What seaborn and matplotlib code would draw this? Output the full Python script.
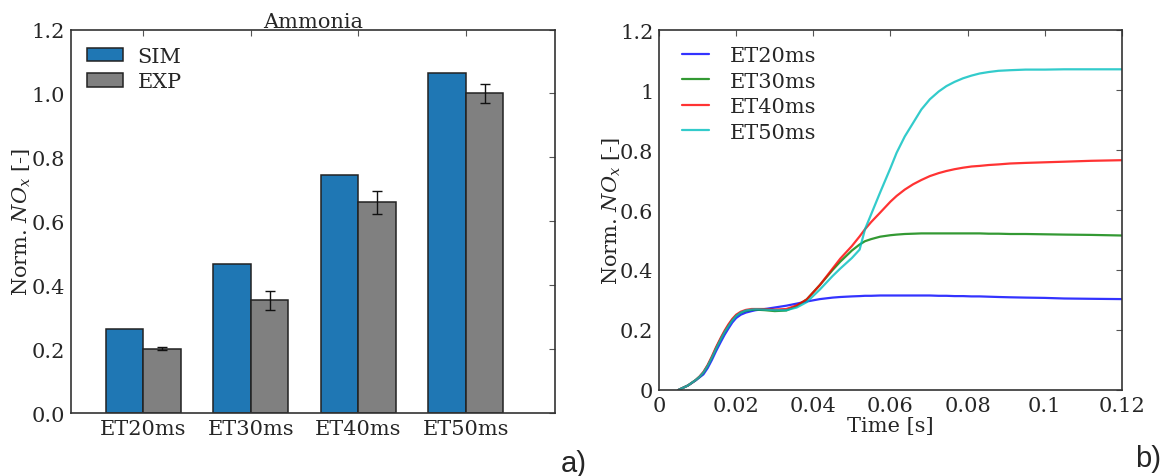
import numpy as np
import pandas as pd
import matplotlib
matplotlib.use("Agg")
import matplotlib.pyplot as plt
from matplotlib.ticker import StrMethodFormatter
import seaborn as sns

# ---------------- data ----------------
categories = ["ET20ms", "ET30ms", "ET40ms", "ET50ms"]
sim_values = [0.262, 0.465, 0.745, 1.065]
exp_values = [0.201, 0.353, 0.660, 1.001]
exp_errors = [0.005, 0.030, 0.036, 0.030]

time_s = [0.005, 0.0075, 0.0095, 0.0105, 0.0115, 0.0126, 0.0137, 0.0148, 0.016,
          0.017, 0.018, 0.019, 0.020, 0.0212, 0.0225, 0.024, 0.025, 0.0275,
          0.030, 0.033, 0.0357, 0.0383, 0.0417, 0.045, 0.047, 0.050, 0.052,
          0.0534, 0.055, 0.0573, 0.060, 0.0616, 0.0637, 0.0659, 0.068, 0.0702,
          0.0725, 0.0745, 0.0766, 0.0788, 0.081, 0.0831, 0.0855, 0.088, 0.091,
          0.095, 0.1, 0.105, 0.112, 0.12]
nox_et20 = [0, .015, .032, .042, .052, .073, .100, .13, .16, .184, .205, .225,
            .240, .251, .258, .263, .266, .27, .275, .281, .288, .295, .303,
            .308, .310, .312, .313, .314, .314, .315, .315, .315, .315, .315,
            .315, .315, .314, .314, .313, .313, .312, .312, .311, .310, .309,
            .308, .307, .305, .304, .303]
nox_et30 = [0, .015, .033, .044, .058, .081, .108, .14, .17, .194, .215, .234,
            .248, .258, .264, .267, .268, .266, .263, .265, .28, .302, .35,
            .40, .428, .465, .485, .496, .503, .511, .516, .518, .520, .521,
            .522, .522, .522, .522, .522, .522, .522, .522, .521, .521, .520,
            .520, .519, .518, .517, .515]
nox_et40 = [0, .015, .033, .045, .06, .083, .112, .143, .174, .198, .219, .237,
            .251, .261, .267, .27, .27, .27, .268, .27, .282, .302, .35, .405,
            .438, .48, .512, .536, .56, .591, .628, .647, .668, .686, .70,
            .713, .723, .73, .736, .741, .745, .747, .75, .752, .755, .757,
            .759, .761, .764, .766]
nox_et50 = [0, .015, .033, .044, .058, .08, .108, .138, .169, .193, .213, .232,
            .247, .258, .265, .268, .269, .268, .266, .266, .275, .293, .335,
            .38, .405, .44, .468, .536, .586, .658, .74, .791, .845, .891,
            .935, .969, .995, 1.013, 1.027, 1.039, 1.048, 1.055, 1.06, 1.064,
            1.066, 1.068, 1.068, 1.069, 1.069, 1.069]

# ---------------- style ----------------
sns.set_theme(style="white")
plt.rcParams["font.family"] = ["DejaVu Serif"]
plt.rcParams["mathtext.fontset"] = "dejavuserif"
plt.rcParams["axes.edgecolor"] = "#333333"
plt.rcParams["axes.linewidth"] = 1.2

fig = plt.figure(figsize=(11.67, 4.77), dpi=100)
ax1 = fig.add_axes([0.0606, 0.132, 0.415, 0.804])
ax2 = fig.add_axes([0.5647, 0.1803, 0.3967, 0.7547])

FS = 15

# ---------------- left: bars ----------------
bar_df = pd.DataFrame({
    "cat": categories * 2,
    "val": sim_values + exp_values,
    "src": ["SIM"] * 4 + ["EXP"] * 4,
})
sns.barplot(data=bar_df, x="cat", y="val", hue="src",
            palette={"SIM": "#1f77b4", "EXP": "#808080"}, saturation=1,
            width=0.7, edgecolor="#222222", linewidth=1.1,
            errorbar=None, ax=ax1)
xpos = np.arange(len(categories)) + 0.175
ax1.errorbar(xpos, exp_values, yerr=exp_errors, fmt="none", ecolor="#111111",
             elinewidth=1.0, capsize=3.5, capthick=1.0)
ax1.set_xlim(-0.674, 3.83)
ax1.set_ylim(0, 1.2)
ax1.set_yticks(np.arange(0, 1.21, 0.2))
ax1.yaxis.set_major_formatter(StrMethodFormatter("{x:.1f}"))
ax1.set_xlabel("")
ax1.set_ylabel("Norm. $NO_x$ [-]", fontsize=FS, labelpad=-1)
ax1.set_title("Ammonia", fontsize=FS, pad=2)
ax1.tick_params(axis="both", direction="in", top=True, right=True,
                length=4, width=0.8, color="#555555", labelsize=FS, pad=4)
h, l = ax1.get_legend_handles_labels()
ax1.legend(h, l, loc="upper left", bbox_to_anchor=(0.033, 0.954),
           frameon=False, fontsize=FS, handlelength=1.75, handleheight=0.6,
           handletextpad=0.7, labelspacing=0.3, borderpad=0, borderaxespad=0)

# ---------------- right: lines ----------------
series = {"ET20ms": nox_et20, "ET30ms": nox_et30,
          "ET40ms": nox_et40, "ET50ms": nox_et50}
line_df = pd.concat([pd.DataFrame({"t": time_s, "nox": v, "case": k})
                     for k, v in series.items()], ignore_index=True)
sns.lineplot(data=line_df, x="t", y="nox", hue="case",
             palette={"ET20ms": "#0000ff", "ET30ms": "#008000",
                      "ET40ms": "#ff0000", "ET50ms": "#00bfbf"},
             linewidth=1.6, alpha=0.8, ax=ax2)
ax2.set_xlim(0, 0.12)
ax2.set_ylim(0, 1.2)
ax2.set_xticks(np.arange(0, 0.121, 0.02))
ax2.set_yticks(np.arange(0, 1.21, 0.2))
ax2.xaxis.set_major_formatter(StrMethodFormatter("{x:g}"))
ax2.yaxis.set_major_formatter(StrMethodFormatter("{x:g}"))
ax2.set_xlabel("Time [s]", fontsize=FS, labelpad=1)
ax2.set_ylabel("Norm. $NO_x$ [-]", fontsize=FS, labelpad=-2)
ax2.tick_params(axis="both", direction="in", top=True, right=True,
                length=4, width=0.8, color="#555555", labelsize=FS, pad=4)
h, l = ax2.get_legend_handles_labels()
ax2.legend(h, l, loc="upper left", bbox_to_anchor=(0.049, 0.955),
           frameon=False, fontsize=FS, handlelength=1.3,
           handletextpad=1.0, labelspacing=0.31, borderpad=0, borderaxespad=0)

# panel labels
fig.text(574 / 1167, 1 - 464 / 477, "a)", fontsize=21, family="Liberation Sans",
         ha="center", va="center")
fig.text(1148 / 1167, 1 - 459 / 477, "b)", fontsize=21, family="Liberation Sans",
         ha="center", va="center")

fig.savefig("out.png", dpi=100, facecolor="white")
